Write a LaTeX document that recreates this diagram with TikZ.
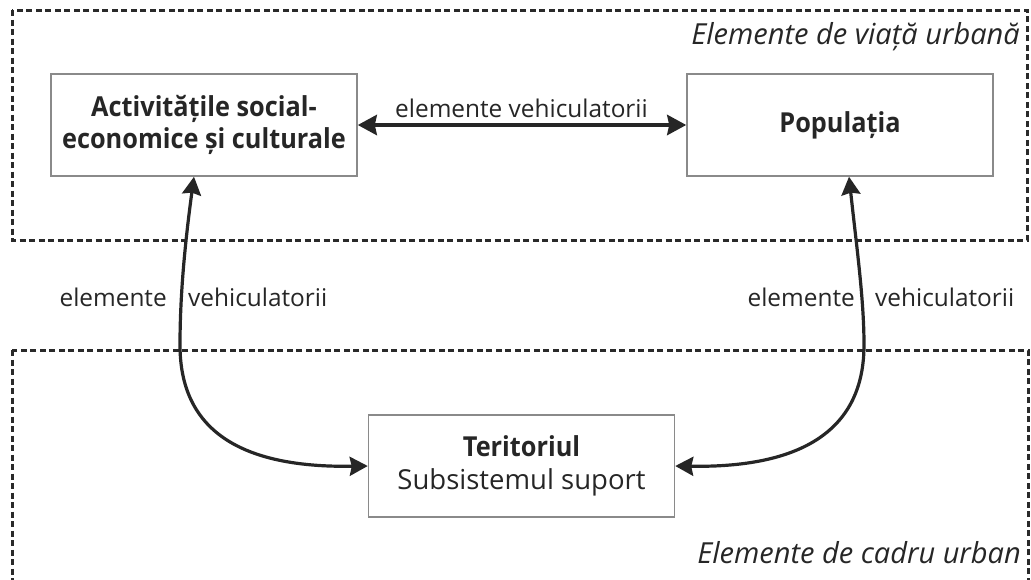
\documentclass[tikz,border=0pt]{standalone}
\usepackage{fontspec}
\setmainfont{Open Sans}
\newfontfamily\headfont[FakeStretch=0.92]{Open Sans}
\usetikzlibrary{arrows.meta}
\definecolor{ink}{HTML}{262626}
\definecolor{frame}{HTML}{2A2A2A}
\definecolor{boxline}{HTML}{8A8A8A}
\newcommand{\headline}[1]{{\headfont\bfseries\fontsize{27.5}{32.5}\selectfont #1}}
\tikzset{
  zone/.style={draw=frame, line width=3pt, dash pattern=on 6pt off 3.5pt},
  entity/.style={draw=boxline, line width=1.5pt, fill=white, text=ink,
    minimum width=306pt, minimum height=102pt, align=center, inner sep=0pt,
    font=\fontsize{27.5}{32.5}\selectfont},
  lbl/.style={text=ink, inner sep=0pt, font=\fontsize{24.4}{28}\selectfont},
  zonelbl/.style={text=ink, inner sep=0pt, anchor=base east,
    font=\fontsize{29}{32}\selectfont\itshape},
  link/.style={draw=ink, line width=4.2pt,
    {Stealth[length=19pt,width=20pt,inset=2pt]}-{Stealth[length=19pt,width=20pt,inset=2pt]}},
  curvelink/.style={draw=ink, line width=3.2pt,
    {Stealth[length=18pt,width=19pt,inset=2pt]}-{Stealth[length=18pt,width=19pt,inset=2pt]}}
}
\begin{document}
\begin{tikzpicture}[x=1pt, y=-1pt]
  \useasboundingbox (0,0) rectangle (1031,579);
  \clip (0,0) rectangle (1031,579);

  % the two dashed zones
  \draw[zone] (12,10) rectangle (1027,240);
  \draw[zone] (12,350) rectangle (1028,600);
  \node[zonelbl] (zoneTop) at (1020,44) {Elemente de viață urbană};
  \node[zonelbl] (zoneBottom) at (1021,563) {Elemente de cadru urban};

  % entities
  \node[entity] (A) at (204,125) {\headline{Activitățile social-}\\\headline{economice și culturale}};
  \node[entity] (P) at (840,125) {\headline{Populația}};
  \node[entity] (T) at (521.5,466) {\headline{Teritoriul}\\Subsistemul suport};

  % horizontal link
  \draw[link] (A) -- (P);
  \node[lbl, anchor=base] (lblTop) at (521.5,117) {elemente vehiculatorii};

  % curved links down to the territory
  \draw[curvelink] ([xshift=-10pt]A.south) .. controls (184,250) and (180,300) .. (180,345)
      .. controls (180,430) and (240,468) .. (T.west);
  \draw[curvelink] ([xshift=9pt]P.south) .. controls (857,250) and (864,300) .. (864,345)
      .. controls (864,430) and (802,468) .. (T.east);

  \node[lbl, anchor=base east] (lblL1) at (167,306) {elemente};
  \node[lbl, anchor=base west] (lblL2) at (188,306) {vehiculatorii};
  \node[lbl, anchor=base east] (lblR1) at (855,306) {elemente};
  \node[lbl, anchor=base west] (lblR2) at (875,306) {vehiculatorii};
\end{tikzpicture}
\end{document}
